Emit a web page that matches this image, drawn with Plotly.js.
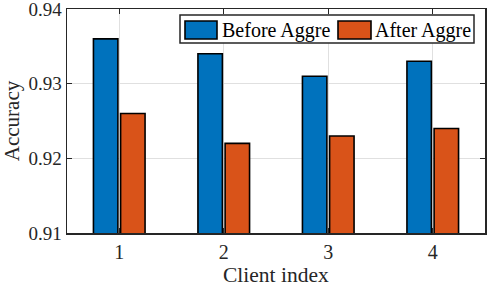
<!DOCTYPE html>
<html><head><meta charset="utf-8">
<script src="https://cdn.plot.ly/plotly-3.0.1.min.js"></script>
<style>html,body{margin:0;padding:0;background:#fff}</style>
</head><body>
<div id="chart" style="width:488px;height:287px"></div>
<script>
const categories = [1, 2, 3, 4];
const tickLabels = ["1", "2", "3", "4"];
const seriesNames = ["Before Aggre", "After Aggre"];
const beforeAggre = [0.936, 0.934, 0.931, 0.933];
const afterAggre = [0.926, 0.922, 0.923, 0.924];
const yTicks = [0.91, 0.92, 0.93, 0.94];
const yTickLabels = ["0.91", "0.92", "0.93", "0.94"];
const xTitle = "Client index";
const yTitle = "Accuracy";
const colors = ['#0072BD', '#D95319'];

const font = "Liberation Serif";
const W = 488, H = 287, L = 67, R = 3, T = 9, B = 54;
const pw = W - L - R, ph = H - T - B;
const px = v => (v - L) / pw;
const py = v => (H - B - v) / ph;

const data = [
  {type:'bar', name:seriesNames[0], x:categories, y:beforeAggre, showlegend:false,
   marker:{color:colors[0], line:{color:'#000', width:1.6}}},
  {type:'bar', name:seriesNames[1], x:categories, y:afterAggre, showlegend:false,
   marker:{color:colors[1], line:{color:'#000', width:1.6}}}
];

const shapes = [
  {type:'rect', xref:'paper', yref:'paper', x0:px(180), x1:px(474), y0:py(43), y1:py(15),
   fillcolor:'#fff', line:{color:'#262626', width:1.5}, layer:'above'},
  {type:'rect', xref:'paper', yref:'paper', x0:px(185), x1:px(217), y0:py(39), y1:py(21),
   fillcolor:colors[0], line:{color:'#000', width:1.6}, layer:'above'},
  {type:'rect', xref:'paper', yref:'paper', x0:px(338), x1:px(371), y0:py(39), y1:py(21),
   fillcolor:colors[1], line:{color:'#000', width:1.6}, layer:'above'}
];
const annotations = [
  {xref:'paper', yref:'paper', x:px(220), y:py(30), xanchor:'left', yanchor:'middle',
   text:seriesNames[0], showarrow:false, font:{family:font, size:20, color:'#000'}},
  {xref:'paper', yref:'paper', x:px(373), y:py(30), xanchor:'left', yanchor:'middle',
   text:seriesNames[1], showarrow:false, font:{family:font, size:20, color:'#000'}},
  {xref:'paper', yref:'paper', x:0.5, y:py(275), xanchor:'center', yanchor:'middle',
   text:xTitle, showarrow:false, font:{family:font, size:21.5, color:'#262626'}}
];

const axisCommon = {
  ticks:'inside', ticklen:5, tickcolor:'#262626', mirror:'ticks',
  showline:true, linecolor:'#262626', linewidth:1.5,
  showgrid:true, gridcolor:'#e0e0e0', gridwidth:1, zeroline:false,
  ticklabeloverflow:'allow'
};
const layout = {
  width:W, height:H,
  margin:{l:L, r:R, t:T, b:B},
  barmode:'group', bargap:0.48, bargroupgap:0.1,
  paper_bgcolor:'#fff', plot_bgcolor:'#fff',
  font:{family:font, size:20, color:'#262626'},
  showlegend:false,
  shapes, annotations,
  xaxis:Object.assign({}, axisCommon, {range:[0.5,4.5], tickvals:categories, ticktext:tickLabels,
    tickfont:{family:font, size:20, color:'#262626'}}),
  yaxis:Object.assign({}, axisCommon, {range:[0.91,0.94], tickvals:yTicks, ticktext:yTickLabels,
    tickfont:{family:font, size:19, color:'#262626'},
    title:{text:yTitle, font:{family:font, size:21, color:'#262626'}, standoff:3}})
};
Plotly.newPlot('chart', data, layout, {displayModeBar:false, staticPlot:true});
</script>
</body></html>
